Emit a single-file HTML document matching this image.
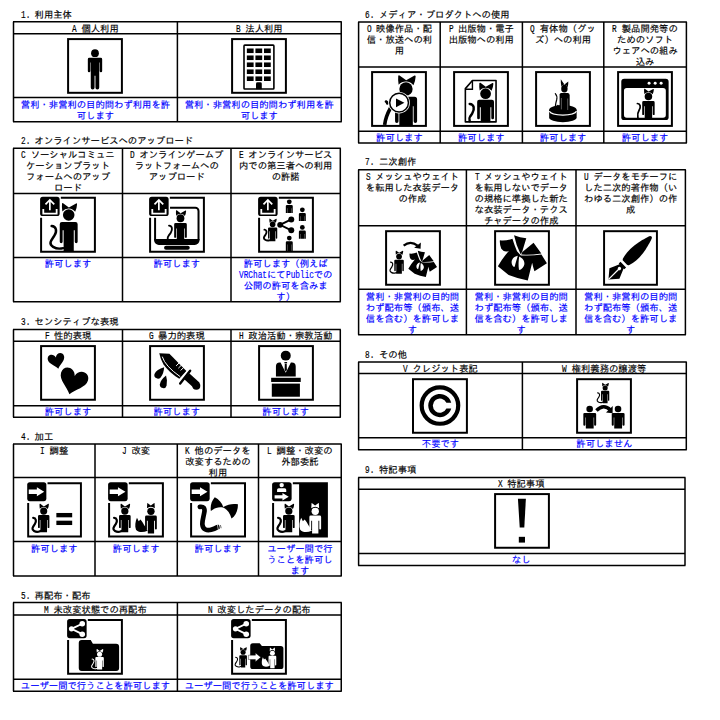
<!DOCTYPE html>
<html lang="ja"><head><meta charset="utf-8"><title>利用規約</title>
<style>
html,body{margin:0;padding:0;background:#fff}
body{width:720px;height:720px;position:relative;overflow:hidden;
 font-family:"Liberation Mono","IPAGothic","Noto Sans CJK JP",monospace;font-size:9.33px;line-height:11.0px;color:#000;
 -webkit-font-smoothing:antialiased}
.l{display:inline-block;white-space:nowrap;text-align:left}
.l i{display:inline-block;font-style:normal;transform:scale(.833,1.14);transform-origin:0 72.5%}
.t{position:absolute;white-space:nowrap;text-align:center;-webkit-text-stroke:0.15px currentColor}
.h{position:absolute;white-space:nowrap;text-align:left;-webkit-text-stroke:0.15px currentColor}
.a{color:#0000ff}
svg{position:absolute;left:0;top:0;overflow:visible}
</style></head><body>

<svg width="720" height="720" viewBox="0 0 720 720">
<defs><clipPath id="fc"><rect x="1" y="1" width="54" height="54"/></clipPath></defs>
<path d="M13.00 21.80H341.75M13.00 33.80H341.75M13.00 97.60H341.75M13.00 121.80H341.75M13.50 21.80V121.80M177.40 21.80V121.80M341.25 21.80V121.80M13.00 148.30H340.80M13.00 193.60H340.80M13.00 257.60H340.80M13.00 301.80H340.80M13.50 148.30V301.80M122.50 148.30V301.80M231.00 148.30V301.80M340.30 148.30V301.80M13.00 329.60H340.80M13.00 341.30H340.80M13.00 405.80H340.80M13.00 417.20H340.80M13.50 329.60V417.20M122.50 329.60V417.20M231.00 329.60V417.20M340.30 329.60V417.20M13.00 444.00H341.75M13.00 477.50H341.75M13.00 541.40H341.75M13.00 575.90H341.75M13.50 444.00V575.90M95.00 444.00V575.90M177.30 444.00V575.90M258.50 444.00V575.90M341.25 444.00V575.90M13.00 602.60H341.75M13.00 615.10H341.75M13.00 679.30H341.75M13.00 691.30H341.75M13.50 602.60V691.30M177.40 602.60V691.30M341.25 602.60V691.30M358.10 22.00H686.90M358.10 67.00H686.90M358.10 131.20H686.90M358.10 143.10H686.90M358.60 22.00V143.10M440.20 22.00V143.10M522.40 22.00V143.10M603.80 22.00V143.10M686.40 22.00V143.10M358.10 169.70H685.90M358.10 225.80H685.90M358.10 289.20H685.90M358.10 334.70H685.90M358.60 169.70V334.70M466.40 169.70V334.70M576.00 169.70V334.70M685.40 169.70V334.70M358.10 362.00H686.80M358.10 373.60H686.80M358.10 437.80H686.80M358.10 449.80H686.80M358.60 362.00V449.80M522.40 362.00V449.80M686.30 362.00V449.80M358.10 477.60H685.50M358.10 489.30H685.50M358.10 553.60H685.50M358.10 565.50H685.50M358.60 477.60V565.50M685.00 477.60V565.50" stroke="#000" stroke-width="1.5" fill="none"/>
<g transform="translate(67.10 38.10) scale(0.9964 0.9946)"><rect x="1" y="1" width="54" height="54" fill="none" stroke="#000" stroke-width="2"/><circle cx="28" cy="15.2" r="3.9" fill="#000"/><path d="M22.3 19.7H33.7Q35.2 19.7 35.2 21.2V33a1.25 1.25 0 0 1-2.5 0V24.5h-.45V49.7a1.9 1.9 0 0 1-3.8 0V37.9h-.9V49.7a1.9 1.9 0 0 1-3.8 0V24.5h-.45V33a1.25 1.25 0 0 1-2.5 0V21.2Q20.8 19.7 22.3 19.7Z"/></g>
<g transform="translate(231.10 38.10) scale(0.9964 0.9946)"><rect x="1" y="1" width="54" height="54" fill="none" stroke="#000" stroke-width="2"/><rect x="12.95" y="7.1" width="30" height="44" rx="0.8" fill="none" stroke="#000" stroke-width="1.6"/><rect x="15.8" y="10.45" width="6.8" height="4.6"/><rect x="24.4" y="10.45" width="6.8" height="4.6"/><rect x="33" y="10.45" width="6.8" height="4.6"/><rect x="15.8" y="17.47" width="6.8" height="4.6"/><rect x="24.4" y="17.47" width="6.8" height="4.6"/><rect x="33" y="17.47" width="6.8" height="4.6"/><rect x="15.8" y="24.49" width="6.8" height="4.6"/><rect x="24.4" y="24.49" width="6.8" height="4.6"/><rect x="33" y="24.49" width="6.8" height="4.6"/><rect x="15.8" y="31.51" width="6.8" height="4.6"/><rect x="24.4" y="31.51" width="6.8" height="4.6"/><rect x="33" y="31.51" width="6.8" height="4.6"/><rect x="15.8" y="38.53" width="6.8" height="4.6"/><rect x="24.4" y="38.53" width="6.8" height="4.6"/><rect x="33" y="38.53" width="6.8" height="4.6"/><path d="M25 51.4V45.8a1.5 1.5 0 0 1 1.5-1.5h2.8a1.5 1.5 0 0 1 1.5 1.5V51.4Z"/></g>
<g transform="translate(40.10 196.80) scale(0.9964 0.9991)"><g clip-path="url(#fc)"><path d="M11.59 29.22 C16.23 29.51 17.39 34.44 14.2 39.08 S8.11 47.2 13.04 50.1 S19.42 51.84 23.19 51.38" fill="none" stroke="#000" stroke-width="2.49" stroke-linecap="round"/><path d="M22.32 14.6 Q21.62 10.08 21.97 6.89 Q22.2 5.9 23.13 6.48 L28.87 10.66 L36.12 6.6 Q37.11 6.31 37.11 7.47 Q36.94 11.24 35.2 15.01 A8.18 8.18 0 0 0 22.32 14.6 Z" fill="#000"/><circle cx="28.7" cy="18.2" r="5.8" fill="#000"/><path d="M21.91 25.28H35.49Q37.69 25.28 37.69 27.48V45.05a1.45 1.45 0 0 1 -2.9 0V33.4h-0.99V55.32H23.6V33.4h-0.99V45.05a1.45 1.45 0 0 1 -2.9 0V27.48Q19.71 25.28 21.91 25.28Z" fill="#000"/></g><path d="M20.8 1H55V55H1V21" fill="none" stroke="#000" stroke-width="2"/><rect x="0" y="0" width="19.6" height="19.2" rx="2.6" fill="#000"/><g fill="none" stroke="#fff" stroke-width="1.7"><path d="M9.8 13.4V3.6M5.4 7.6L9.8 3.2L14.2 7.6"/><path d="M3.2 12.2V16.8H16.6V12.2" stroke-width="1.8"/></g></g>
<g transform="translate(149.10 196.80) scale(0.9964 0.9991)"><path d="M21 10.9H46.4a3.2 3.2 0 0 1 3.2 3.2V43.5" fill="none" stroke="#000" stroke-width="2"/><path d="M6 21V43.5" fill="none" stroke="#000" stroke-width="2"/><path d="M5 42.3H50.6V43.4a4.8 4.8 0 0 1-4.8 4.8H9.8A4.8 4.8 0 0 1 5 43.4Z"/><rect x="15" y="48.9" width="25.8" height="4" rx="2"/><path d="M19.99 28.86 C23.12 29.05 23.89 32.37 21.75 35.88 S18.05 39.39 18.63 42.9" fill="none" stroke="#000" stroke-width="1.87" stroke-linecap="round"/><path d="M27.21 19.03 Q26.74 15.99 26.98 13.84 Q27.13 13.18 27.76 13.57 L31.62 16.38 L36.49 13.65 Q37.16 13.46 37.16 14.23 Q37.04 16.77 35.87 19.3 A5.5 5.5 0 0 0 27.21 19.03 Z" fill="#000"/><circle cx="31.5" cy="21.45" r="3.9" fill="#000"/><path d="M26.62 26.21H36.38Q37.86 26.21 37.86 27.69V40.13a0.97 0.97 0 0 1 -1.95 0V31.67h-0.66V43.29H27.76V31.67h-0.66V40.13a0.97 0.97 0 0 1 -1.95 0V27.69Q25.14 26.21 26.62 26.21Z" fill="#000"/><path d="M20.8 1H55V55H1V21" fill="none" stroke="#000" stroke-width="2"/><rect x="0" y="0" width="19.6" height="19.2" rx="2.6" fill="#000"/><g fill="none" stroke="#fff" stroke-width="1.7"><path d="M9.8 13.4V3.6M5.4 7.6L9.8 3.2L14.2 7.6"/><path d="M3.2 12.2V16.8H16.6V12.2" stroke-width="1.8"/></g></g>
<g transform="translate(258.10 196.80) scale(0.9964 0.9991)"><path d="M6.34 32.92 C8.58 33.06 9.14 35.44 7.6 37.68 S4.66 41.6 7.04 43 S10.12 43.84 12.08 43.28" fill="none" stroke="#000" stroke-width="1.85" stroke-linecap="round"/><path d="M11.52 25.86 Q11.18 23.68 11.35 22.14 Q11.46 21.66 11.91 21.94 L14.68 23.96 L18.18 22 Q18.66 21.86 18.66 22.42 Q18.58 24.24 17.74 26.06 A3.95 3.95 0 0 0 11.52 25.86 Z" fill="#000"/><circle cx="14.6" cy="27.6" r="2.8" fill="#000"/><path d="M11.04 30.68H18.16Q19.22 30.68 19.22 31.74V41.32a0.7 0.7 0 0 1 -1.4 0V34.6h-0.48V44.4H11.86V34.6h-0.48V41.32a0.7 0.7 0 0 1 -1.4 0V31.74Q9.98 30.68 11.04 30.68Z" fill="#000"/><path d="M33.3 22.7L22.1 28L33.3 33.6" fill="none" stroke="#000" stroke-width="1.9"/><circle cx="22.1" cy="28" r="2.9"/><circle cx="33.3" cy="22.7" r="3"/><circle cx="33.3" cy="33.6" r="3"/><circle cx="31.3" cy="5" r="2.4" fill="#000"/><path d="M29.02 8.12H33.58Q34.78 8.12 34.78 9.32V16.28h-1.2V11.48h-0.24V16.28H29.26V11.48h-0.24V16.28h-1.2V9.32Q27.82 8.12 29.02 8.12Z" fill="#000"/><circle cx="44.4" cy="13" r="2.4" fill="#000"/><path d="M42.12 16.12H46.68Q47.88 16.12 47.88 17.32V24.28h-1.2V19.48h-0.24V24.28H42.36V19.48h-0.24V24.28h-1.2V17.32Q40.92 16.12 42.12 16.12Z" fill="#000"/><circle cx="44.4" cy="30.7" r="2.4" fill="#000"/><path d="M42.12 33.82H46.68Q47.88 33.82 47.88 35.02V41.98h-1.2V37.18h-0.24V41.98H42.36V37.18h-0.24V41.98h-1.2V35.02Q40.92 33.82 42.12 33.82Z" fill="#000"/><g clip-path="url(#fc)"><circle cx="31.3" cy="41.3" r="2.4" fill="#000"/><path d="M29.02 44.42H33.58Q34.78 44.42 34.78 45.62V55.22h-1.2V47.78h-0.24V55.22H29.26V47.78h-0.24V55.22h-1.2V45.62Q27.82 44.42 29.02 44.42Z" fill="#000"/></g><path d="M20.8 1H55V55H1V21" fill="none" stroke="#000" stroke-width="2"/><rect x="0" y="0" width="19.6" height="19.2" rx="2.6" fill="#000"/><g fill="none" stroke="#fff" stroke-width="1.7"><path d="M9.8 13.4V3.6M5.4 7.6L9.8 3.2L14.2 7.6"/><path d="M3.2 12.2V16.8H16.6V12.2" stroke-width="1.8"/></g></g>
<g transform="translate(40.10 345.10) scale(0.9964 0.9937)"><rect x="1" y="1" width="54" height="54" fill="none" stroke="#000" stroke-width="2"/><path d="M0 3C-1.5 -3 -9.5 -2.6 -9.5 3.5C-9.5 8.5 -3 11.5 0 16C3 11.5 9.5 8.5 9.5 3.5C9.5 -2.6 1.5 -3 0 3Z" transform="translate(15.25 10) rotate(-12.5) scale(0.88 0.88)"/><path d="M0 3C-1.5 -3 -9.5 -2.6 -9.5 3.5C-9.5 8.5 -3 11.5 0 16C3 11.5 9.5 8.5 9.5 3.5C9.5 -2.6 1.5 -3 0 3Z" transform="translate(35.95 26.8) rotate(16) scale(1.48 1.48)"/></g>
<g transform="translate(149.10 345.10) scale(0.9964 0.9937)"><rect x="1" y="1" width="54" height="54" fill="none" stroke="#000" stroke-width="2"/><path d="M10.2 8.1L20.4 8.8L37.4 26.1L30.3 33.9Q20 27.5 14.5 19.5Q11.5 14.5 10.2 8.1Z"/><path d="M13.2 11.6Q16 21 31.2 31.8" fill="none" stroke="#fff" stroke-width="1"/><path d="M30.3 17.8L27.1 21M32.55 20.05L29.4 23.2M34.9 22.3L31.7 25.5" fill="none" stroke="#fff" stroke-width="1"/><path d="M41.2 25.8L31.2 38.6" fill="none" stroke="#000" stroke-width="2.4" stroke-linecap="round"/><path d="M39.2 24.6L29.4 37" fill="none" stroke="#fff" stroke-width="1"/><path d="M37.6 31.2L47.9 40.6" fill="none" stroke="#000" stroke-width="7.8" stroke-linecap="butt"/><circle cx="47.4" cy="40.9" r="4"/><path d="M15.1 22.3Q7.5 24.5 5.4 29A3.7 3.7 0 0 0 11.6 32.6Q14.8 28.5 15.1 22.3Z"/><path d="M17 30.7Q11 35.5 10.7 40A3.5 3.5 0 0 0 17.6 40.6Q18.6 35.5 17 30.7Z"/></g>
<g transform="translate(258.10 345.10) scale(0.9964 0.9937)"><rect x="1" y="1" width="54" height="54" fill="none" stroke="#000" stroke-width="2"/><circle cx="27.75" cy="10.6" r="5" fill="#000"/><path d="M17.9 31.7V21.5Q17.9 17.6 21.6 17.6H22.6L27.75 27.8L32.9 17.6H33.9Q37.75 17.6 37.75 21.5V31.7Z"/><path d="M26.4 17H29.1V18.2H26.4ZM26.8 18.7H28.7L28.9 25L27.75 26.6L26.6 25Z"/><rect x="13.1" y="32.9" width="29.7" height="4.2"/><rect x="13.75" y="38.75" width="28.2" height="13.2"/></g>
<g transform="translate(27.20 482.20) scale(0.9768 0.9893)"><path d="M6.13 36.13 C9.05 36.32 9.78 39.42 7.77 42.34 S3.94 47.45 7.04 49.27 S11.06 50.37 13.61 49.27" fill="none" stroke="#000" stroke-width="2.26" stroke-linecap="round"/><path d="M12.88 26.94 Q12.45 24.09 12.67 22.08 Q12.81 21.46 13.4 21.83 L17.01 24.45 L21.57 21.9 Q22.19 21.72 22.19 22.45 Q22.08 24.82 20.99 27.19 A5.15 5.15 0 0 0 12.88 26.94 Z" fill="#000"/><circle cx="16.9" cy="29.2" r="3.65" fill="#000"/><path d="M12.45 33.14H21.35Q22.74 33.14 22.74 34.53V45.44a0.91 0.91 0 0 1 -1.82 0V38.25h-0.62V50.55H13.51V38.25h-0.62V45.44a0.91 0.91 0 0 1 -1.82 0V34.53Q11.06 33.14 12.45 33.14Z" fill="#000"/><rect x="29.85" y="31.1" width="16.2" height="4.4"/><rect x="29.85" y="38.9" width="16.2" height="4.4"/><path d="M20.8 1H55V55H1V21" fill="none" stroke="#000" stroke-width="2"/><rect x="0" y="0" width="19.6" height="19.2" rx="2.6" fill="#000"/><path d="M1.6 7.3H9.9V5L17.4 9.6L9.9 14.2V11.9H1.6Z" fill="#fff"/></g>
<g transform="translate(108.10 482.20) scale(0.9964 0.9893)"><path d="M6.03 36.13 C8.95 36.32 9.68 39.42 7.68 42.34 S3.84 47.45 6.95 49.27 S10.96 50.37 13.52 49.27" fill="none" stroke="#000" stroke-width="2.26" stroke-linecap="round"/><path d="M12.79 26.94 Q12.35 24.09 12.57 22.08 Q12.71 21.46 13.3 21.83 L16.91 24.45 L21.47 21.9 Q22.09 21.72 22.09 22.45 Q21.98 24.82 20.89 27.19 A5.15 5.15 0 0 0 12.79 26.94 Z" fill="#000"/><circle cx="16.8" cy="29.2" r="3.65" fill="#000"/><path d="M12.35 33.14H21.25Q22.64 33.14 22.64 34.53V45.44a0.91 0.91 0 0 1 -1.82 0V38.25h-0.62V50.55H13.41V38.25h-0.62V45.44a0.91 0.91 0 0 1 -1.82 0V34.53Q10.96 33.14 12.35 33.14Z" fill="#000"/><path d="M29 36 C27.4 39.5 26.6 44.5 28 48 C30 50.8 35 51.2 39.6 49.1 L37.2 44.8 C35.7 42.5 34.5 40 32.5 37.6 L30.7 39.5 Z" fill="#000"/><path d="M39 26.33 L39.3 21.26 Q39.41 20.67 39.85 21.26 L42.85 23.66 L45.96 21.26 Q46.4 20.67 46.63 21.26 L46.88 26.33 A5.66 5.66 0 0 0 39 26.33 Z" fill="#000"/><circle cx="43" cy="29.4" r="3.7" fill="#000"/><path d="M38.5 33.73H47.5Q48.9 33.73 48.9 35.13V46.98a0.93 0.93 0 0 1 -1.85 0V38.91h-0.89V51.78H39.84V38.91h-0.89V46.98a0.93 0.93 0 0 1 -1.85 0V35.13Q37.1 33.73 38.5 33.73Z" fill="#000"/><path d="M20.8 1H55V55H1V21" fill="none" stroke="#000" stroke-width="2"/><rect x="0" y="0" width="19.6" height="19.2" rx="2.6" fill="#000"/><path d="M1.6 7.3H9.9V5L17.4 9.6L9.9 14.2V11.9H1.6Z" fill="#fff"/></g>
<g transform="translate(190.10 482.20) scale(0.9982 0.9893)"><path d="M24.7 15.3C29 17.5 32 21 33.2 25.1C38 22.2 43 21.6 47.9 22.4C48 29 45.5 34 41.5 36.8C40 31.5 37.5 27.8 33.6 25.9C29 24.6 24.5 26 20.8 29.2C20 24 21.5 19 24.7 15.3Z"/><path d="M9.8 24.9C13.5 24.3 14.9 26.5 14.3 30C13.5 35 12 39 12.3 42.8C12.8 48 17 49.2 21 48.1C23.6 47.4 25.8 46.3 27.4 45.4" fill="none" stroke="#000" stroke-width="4.7" stroke-linecap="round"/><path d="M27.3 42.6L28.3 47.8M29 42.2L30.1 47.2M30.7 43.2L31.3 46.4" fill="none" stroke="#fff" stroke-width="0.7"/><path d="M28.5 43L29.5 47.4M30.4 43.3L31.1 46.5" fill="none" stroke="#000" stroke-width="0.6"/><path d="M20.8 1H55V55H1V21" fill="none" stroke="#000" stroke-width="2"/><rect x="0" y="0" width="19.6" height="19.2" rx="2.6" fill="#000"/><path d="M1.6 7.3H9.9V5L17.4 9.6L9.9 14.2V11.9H1.6Z" fill="#fff"/></g>
<g transform="translate(272.10 482.20) scale(0.9964 0.9893)"><rect x="27.1" y="1" width="28" height="54"/><path d="M6.03 36.13 C8.95 36.32 9.68 39.42 7.68 42.34 S3.84 47.45 6.95 49.27 S10.96 50.37 13.52 49.27" fill="none" stroke="#000" stroke-width="2.26" stroke-linecap="round"/><path d="M12.79 26.94 Q12.35 24.09 12.57 22.08 Q12.71 21.46 13.3 21.83 L16.91 24.45 L21.47 21.9 Q22.09 21.72 22.09 22.45 Q21.98 24.82 20.89 27.19 A5.15 5.15 0 0 0 12.79 26.94 Z" fill="#000"/><circle cx="16.8" cy="29.2" r="3.65" fill="#000"/><path d="M12.35 33.14H21.25Q22.64 33.14 22.64 34.53V45.44a0.91 0.91 0 0 1 -1.82 0V38.25h-0.62V50.55H13.41V38.25h-0.62V45.44a0.91 0.91 0 0 1 -1.82 0V34.53Q10.96 33.14 12.35 33.14Z" fill="#000"/><path d="M29.2 36 C27.6 39.5 26.8 44.5 28.2 48 C30.2 50.8 35.2 51.2 39.8 49.1 L37.4 44.8 C35.9 42.5 34.7 40 32.7 37.6 L30.9 39.5 Z" fill="#fff"/><path d="M39.3 26.33 L39.6 21.26 Q39.71 20.67 40.15 21.26 L43.15 23.66 L46.26 21.26 Q46.7 20.67 46.93 21.26 L47.18 26.33 A5.66 5.66 0 0 0 39.3 26.33 Z" fill="#fff"/><circle cx="43.3" cy="29.4" r="3.7" fill="#fff"/><path d="M38.8 33.73H47.8Q49.2 33.73 49.2 35.13V46.98a0.93 0.93 0 0 1 -1.85 0V38.91h-0.89V51.78H40.14V38.91h-0.89V46.98a0.93 0.93 0 0 1 -1.85 0V35.13Q37.4 33.73 38.8 33.73Z" fill="#fff"/><path d="M20.8 1H55V55H1V21" fill="none" stroke="#000" stroke-width="2"/><rect x="0" y="0" width="19.6" height="19.2" rx="2.6" fill="#000"/><circle cx="9.6" cy="2.9" r="2.2" fill="#fff"/><path d="M5 9.8V7.6Q5 6 6.6 6H12.6Q14.2 6 14.2 7.6V9.8Z" fill="#fff"/><path d="M2.5 13.1H10.4V11L16.7 14.75L10.4 18.4V16.4H2.5Z" fill="#fff"/></g>
<g transform="translate(67.10 619.10) scale(0.9964 0.9937)"><path d="M14.7 21H23.7L25.9 24.8H49.2a3 3 0 0 1 3 3V49.3a3 3 0 0 1 -3 3H14.7a3 3 0 0 1 -3 -3V24A3 3 0 0 1 14.7 21Z"/><path d="M25.08 40.14 C27.12 40.27 27.63 42.44 26.23 44.48 S23.55 48.05 25.72 49.32 S28.52 50.09 30.3 49.58" fill="none" stroke="#fff" stroke-width="1.02" stroke-linecap="round"/><path d="M29.8 33.72 Q29.49 31.73 29.64 30.33 Q29.74 29.89 30.15 30.15 L32.68 31.98 L35.86 30.2 Q36.3 30.07 36.3 30.58 Q36.22 32.24 35.46 33.9 A3.6 3.6 0 0 0 29.8 33.72 Z" fill="#fff"/><circle cx="32.6" cy="35.3" r="2.55" fill="#fff"/><path d="M29.3 38.1H35.9Q36.87 38.1 36.87 39.07V47.67a0.64 0.64 0 0 1 -1.27 0V41.67h-0.43V50.6H30.04V41.67h-0.43V47.67a0.64 0.64 0 0 1 -1.27 0V39.07Q28.33 38.1 29.3 38.1Z" fill="#fff"/><path d="M20.8 1H55V55H1V21" fill="none" stroke="#000" stroke-width="2"/><rect x="0" y="0" width="19.6" height="19.2" rx="2.6" fill="#000"/><path d="M15.2 4.7L4.4 9.8L15.2 15.2" fill="none" stroke="#fff" stroke-width="1.9"/><circle cx="4.4" cy="9.8" r="2.6" fill="#fff"/><circle cx="15.2" cy="4.7" r="2.8" fill="#fff"/><circle cx="15.2" cy="15.2" r="2.8" fill="#fff"/></g>
<g transform="translate(231.10 619.10) scale(0.9964 0.9937)"><path d="M21.8 24.2H28.7L30.9 27H49.9a2.6 2.6 0 0 1 2.6 2.6V47.7a2.6 2.6 0 0 1 -2.6 2.6H21.8a2.6 2.6 0 0 1 -2.6 -2.6V26.8A2.6 2.6 0 0 1 21.8 24.2Z"/><path d="M4.53 38.3 C6.57 38.42 7.08 40.59 5.68 42.63 S3 46.2 5.17 47.48 S7.97 48.24 9.76 47.73" fill="none" stroke="#000" stroke-width="1.07" stroke-linecap="round"/><path d="M9.25 31.87 Q8.94 29.88 9.09 28.48 Q9.19 28.04 9.6 28.3 L12.13 30.14 L15.31 28.35 Q15.75 28.22 15.75 28.73 Q15.67 30.39 14.91 32.05 A3.6 3.6 0 0 0 9.25 31.87 Z" fill="#000"/><circle cx="12.05" cy="33.45" r="2.55" fill="#000"/><path d="M9.19 36.26H14.91Q15.88 36.26 15.88 37.22V45.82a0.64 0.64 0 0 1 -1.27 0V39.83h-0.43V48.75H9.93V39.83h-0.43V45.82a0.64 0.64 0 0 1 -1.27 0V37.22Q8.23 36.26 9.19 36.26Z" fill="#000"/><path d="M17.4 36.3H24.4V34L29.8 38.5L24.4 43V40.7H17.4Z" fill="#fff" stroke="#000" stroke-width="0.4"/><path d="M31.9 38.5 C30.86 40.77 30.34 44.02 31.25 46.3 C32.55 48.12 35.8 48.38 38.79 47.02 L37.23 44.22 C36.25 42.73 35.48 41.1 34.17 39.54 L33 40.77 Z" fill="#fff"/><path d="M38.75 32.32 L38.95 28.9 Q39.03 28.5 39.33 28.9 L41.35 30.52 L43.45 28.9 Q43.75 28.5 43.9 28.9 L44.08 32.32 A3.83 3.83 0 0 0 38.75 32.32 Z" fill="#fff"/><circle cx="41.45" cy="34.4" r="2.5" fill="#fff"/><path d="M38.53 36.9H44.38Q45.33 36.9 45.33 37.85V46.02a0.62 0.62 0 0 1 -1.25 0V40.4h-0.43V49.4H39.25V40.4h-0.43V46.02a0.62 0.62 0 0 1 -1.25 0V37.85Q37.58 36.9 38.53 36.9Z" fill="#fff"/><path d="M20.8 1H55V55H1V21" fill="none" stroke="#000" stroke-width="2"/><rect x="0" y="0" width="19.6" height="19.2" rx="2.6" fill="#000"/><path d="M15.2 4.7L4.4 9.8L15.2 15.2" fill="none" stroke="#fff" stroke-width="1.9"/><circle cx="4.4" cy="9.8" r="2.6" fill="#fff"/><circle cx="15.2" cy="4.7" r="2.8" fill="#fff"/><circle cx="15.2" cy="15.2" r="2.8" fill="#fff"/></g>
<g transform="translate(371.10 71.10) scale(0.9964 0.9964)"><g clip-path="url(#fc)"><path d="M15 30.6Q16.3 31.2 16.2 32.4" fill="none" stroke="#000" stroke-width="2.8" stroke-linecap="round"/><path d="M19.5 37Q14.5 46 13.6 54" fill="none" stroke="#000" stroke-width="3.6"/><path d="M27.63 13.75 Q26.83 8.52 27.23 4.83 Q27.5 3.7 28.57 4.37 L35.2 9.19 L43.58 4.5 Q44.72 4.16 44.72 5.5 Q44.51 9.86 42.5 14.21 A9.45 9.45 0 0 0 27.63 13.75 Z" fill="#000"/><circle cx="35" cy="17.9" r="6.7" fill="#000"/><path d="M26.59 25.81H43.61Q46.16 25.81 46.16 28.35V50.33a1.74 1.74 0 0 1 -3.48 0V35.19h-0.8V55.42H28.33V35.19h-0.8V50.33a1.74 1.74 0 0 1 -3.48 0V28.35Q24.05 25.81 26.59 25.81Z" fill="#000"/><circle cx="28.1" cy="31.7" r="10.8" fill="#fff"/><circle cx="28.1" cy="31.7" r="9.4" fill="#fff" stroke="#000" stroke-width="1.5"/><path d="M25 27.4V36.2L33.4 31.8Z"/></g><rect x="1" y="1" width="54" height="54" fill="none" stroke="#000" stroke-width="2"/></g>
<g transform="translate(453.10 71.10) scale(0.9964 0.9964)"><path d="M19.4 9.4H43.1V51H12.3V17.6Z" fill="none" stroke="#000" stroke-width="1.6" stroke-linejoin="round"/><path d="M19.4 9.4V18.2H12.3" fill="none" stroke="#000" stroke-width="1.4"/><g clip-path="url(#fc)"><path d="M16.67 32.96 C20.99 33.23 22.07 37.82 19.1 42.68 S15.86 45.38 16.67 50.24" fill="none" stroke="#000" stroke-width="2.48" stroke-linecap="round"/><path d="M26.66 19.35 Q26.01 15.14 26.34 12.17 Q26.55 11.25 27.42 11.79 L32.76 15.68 L39.51 11.9 Q40.43 11.63 40.43 12.71 Q40.27 16.22 38.65 19.73 A7.61 7.61 0 0 0 26.66 19.35 Z" fill="#000"/><circle cx="32.6" cy="22.7" r="5.4" fill="#000"/><path d="M26.2 28.75H39Q41.05 28.75 41.05 30.8V46.95a1.35 1.35 0 0 1 -2.7 0V36.31h-0.92V51.32H27.77V36.31h-0.92V46.95a1.35 1.35 0 0 1 -2.7 0V30.8Q24.15 28.75 26.2 28.75Z" fill="#000"/></g><rect x="1" y="1" width="54" height="54" fill="none" stroke="#000" stroke-width="2"/></g>
<g transform="translate(535.10 71.10) scale(0.9964 0.9964)"><rect x="1" y="1" width="54" height="54" fill="none" stroke="#000" stroke-width="2"/><path d="M14.1 39V46.6A13.8 4.7 0 0 0 41.7 46.6V39Z"/><ellipse cx="27.9" cy="38.8" rx="13.8" ry="4.7"/><path d="M14.3 40.2A13.7 4.5 0 0 0 41.5 40.2" fill="none" stroke="#fff" stroke-width="1.2"/><path d="M20.3 22.6Q22.6 25 21.6 29Q20 34.5 20.6 37L22.4 37L22.8 34.4" fill="none" stroke="#000" stroke-width="1.2" stroke-linecap="round"/><path d="M29.4 13.5L25.8 8.3Q25.6 12 26.4 15.4Q27.5 13.7 29.4 13.5ZM29.4 13.5L33.3 10.4Q33.5 13.5 32.7 16.2Q31.5 13.9 29.4 13.5Z"/><ellipse cx="29.4" cy="17.6" rx="3.2" ry="3.8"/><path d="M24.6 38V23.6Q24.6 22 26.2 22H33Q34.7 22.4 34.7 24.4V38.6Q30 40.6 24.6 38Z"/><path d="M26.4 27V38.4M32.7 27.5V39" fill="none" stroke="#fff" stroke-width="0.35"/></g>
<g transform="translate(617.10 71.10) scale(0.9964 0.9964)"><rect x="1" y="1" width="54" height="54" fill="none" stroke="#000" stroke-width="2"/><rect x="4.2" y="7.8" width="47.5" height="41.4" rx="3"/><rect x="6.9" y="16.9" width="42" height="30" rx="2.8" fill="#fff"/><circle cx="32.1" cy="12.25" r="1.5" fill="#fff"/><circle cx="38.2" cy="12.25" r="1.5" fill="#fff"/><circle cx="44.2" cy="12.25" r="1.5" fill="#fff"/><path d="M20.39 32.52 C23.39 32.71 24.14 35.9 22.07 39.27 S20.39 43.59 20.95 46.96" fill="none" stroke="#000" stroke-width="1.73" stroke-linecap="round"/><path d="M27.32 23.07 Q26.88 20.15 27.1 18.09 Q27.25 17.45 27.85 17.82 L31.56 20.52 L36.25 17.9 Q36.89 17.71 36.89 18.46 Q36.77 20.9 35.65 23.34 A5.29 5.29 0 0 0 27.32 23.07 Z" fill="#000"/><circle cx="31.45" cy="25.4" r="3.75" fill="#000"/><path d="M26.63 30.01H36.27Q37.69 30.01 37.69 31.44V43.21a0.94 0.94 0 0 1 -1.88 0V35.26h-0.64V47.15H27.72V35.26h-0.64V43.21a0.94 0.94 0 0 1 -1.88 0V31.44Q25.21 30.01 26.63 30.01Z" fill="#000"/></g>
<g transform="translate(385.10 230.20) scale(0.9964 0.9920)"><rect x="1" y="1" width="54" height="54" fill="none" stroke="#000" stroke-width="2"/><path d="M5.47 32.09 C7.79 32.24 8.36 34.69 6.77 37 S3.74 41.05 6.2 42.5 S9.38 43.36 11.4 42.78" fill="none" stroke="#000" stroke-width="1.21" stroke-linecap="round"/><path d="M10.82 24.81 Q10.47 22.55 10.65 20.96 Q10.76 20.47 11.23 20.76 L14.09 22.84 L17.7 20.82 Q18.19 20.68 18.19 21.25 Q18.1 23.13 17.24 25.01 A4.07 4.07 0 0 0 10.82 24.81 Z" fill="#000"/><circle cx="14" cy="26.6" r="2.89" fill="#000"/><path d="M10.33 29.78H17.67Q18.77 29.78 18.77 30.88V40.62a0.72 0.72 0 0 1 -1.45 0V33.83h-0.49V43.94H11.17V33.83h-0.49V40.62a0.72 0.72 0 0 1 -1.45 0V30.88Q9.23 29.78 10.33 29.78Z" fill="#000"/><path d="M18.6 15.6Q25.5 9.8 32.6 15.6" fill="none" stroke="#000" stroke-width="2.2"/><path d="M35.9 12.4L35.6 18.8L29.2 17.6Z"/><g transform="translate(21.1 17.55) scale(0.585)"><path d="M5.8 10.2Q12 11 18.4 8.6Q20 14 23 21.2L26.8 25.4Q38 26 47.5 24.6L53 33.2L40.5 41.5Q39 37 38.2 32.8L33.8 50.6Q24 49 14.6 45.2L3.8 36.4Q8.5 28 15 20.6Q10.5 23 7.2 18.6Q5.4 14.5 5.8 10.2ZM20 5.2Q26 7.6 32.3 8L28.2 21.8L26.6 24.2Q22 15 20 5.2ZM28.4 22L39.6 12.6L47.4 23.4Q37 25.2 27.2 24.6Z"/><path d="M23.8 25.8C19.5 26.5 17 30 17.7 33.5C18.3 36.2 19.6 37.2 20.7 36.9C21.5 33 22.8 29.5 23.8 25.8ZM25.2 26.4C28.6 28 30.8 31 30.4 34.2C29.9 37.2 27.6 39.6 25 40.2C24.3 35 24.5 30.5 25.2 26.4Z" fill="#fff"/></g></g>
<g transform="translate(494.10 230.20) scale(0.9964 0.9920)"><rect x="1" y="1" width="54" height="54" fill="none" stroke="#000" stroke-width="2"/><path d="M5.8 10.2Q12 11 18.4 8.6Q20 14 23 21.2L26.8 25.4Q38 26 47.5 24.6L53 33.2L40.5 41.5Q39 37 38.2 32.8L33.8 50.6Q24 49 14.6 45.2L3.8 36.4Q8.5 28 15 20.6Q10.5 23 7.2 18.6Q5.4 14.5 5.8 10.2ZM20 5.2Q26 7.6 32.3 8L28.2 21.8L26.6 24.2Q22 15 20 5.2ZM28.4 22L39.6 12.6L47.4 23.4Q37 25.2 27.2 24.6Z"/><path d="M23.8 25.8C19.5 26.5 17 30 17.7 33.5C18.3 36.2 19.6 37.2 20.7 36.9C21.5 33 22.8 29.5 23.8 25.8ZM25.2 26.4C28.6 28 30.8 31 30.4 34.2C29.9 37.2 27.6 39.6 25 40.2C24.3 35 24.5 30.5 25.2 26.4Z" fill="#fff"/></g>
<g transform="translate(603.10 230.20) scale(0.9786 0.9920)"><rect x="1" y="1" width="54" height="54" fill="none" stroke="#000" stroke-width="2"/><g transform="translate(5.5 49.6) rotate(-44.5)"><path d="M25.3 -4.6C32 -6.7 40 -6.8 48 -5.1C54 -3.7 59 -2.2 61 -1.3Q62.4 0 61 1.3C59 2.2 54 3.7 48 5.1C40 6.8 32 6.7 25.3 4.6Q23.8 4 23.8 2.8V-2.8Q23.8 -4 25.3 -4.6Z"/><path d="M0 0L8.5 -7.3Q14 -5 18.7 -3V-4.05H21.2V4.05H18.7V3Q14 5 8.5 7.3Z"/><path d="M0 0H15" stroke="#fff" stroke-width="1.25" fill="none"/><circle cx="15.7" cy="0" r="1.7" fill="#fff"/></g></g>
<g transform="translate(412.00 378.20) scale(0.9982 0.9920)"><rect x="1" y="1" width="54" height="54" fill="none" stroke="#000" stroke-width="2"/><circle cx="28" cy="27.6" r="18.3" fill="none" stroke="#000" stroke-width="4.2"/><path d="M39.3 24.7A11.7 11.7 0 1 0 39.3 30.5H34.45A7.1 7.1 0 1 1 34.45 24.7Z"/></g>
<g transform="translate(576.10 378.20) scale(0.9964 0.9920)"><rect x="1" y="1" width="54" height="54" fill="none" stroke="#000" stroke-width="2"/><path d="M21.63 14.75 C23.67 14.87 24.18 17.04 22.77 19.08 S20.1 22.65 22.27 23.92 S25.07 24.69 26.85 24.18" fill="none" stroke="#000" stroke-width="1.15" stroke-linecap="round"/><path d="M26.34 8.32 Q26.04 6.33 26.19 4.93 Q26.29 4.49 26.7 4.75 L29.23 6.59 L32.41 4.8 Q32.85 4.67 32.85 5.18 Q32.77 6.84 32.01 8.5 A3.6 3.6 0 0 0 26.34 8.32 Z" fill="#000"/><circle cx="29.15" cy="9.9" r="2.55" fill="#000"/><path d="M25.98 12.71H32.32Q33.29 12.71 33.29 13.67V22.27a0.64 0.64 0 0 1 -1.27 0V16.27h-0.43V25.2H26.71V16.27h-0.43V22.27a0.64 0.64 0 0 1 -1.27 0V13.67Q25.01 12.71 25.98 12.71Z" fill="#000"/><circle cx="13.6" cy="31" r="3.3" fill="#000"/><path d="M8.52 34.96H18.88Q20.13 34.96 20.13 36.21V46.81a1.02 1.02 0 0 1 -2.05 0V39.58h-0.46V50.63H9.77V39.58h-0.46V46.81a1.02 1.02 0 0 1 -2.05 0V36.21Q7.26 34.96 8.52 34.96Z" fill="#000"/><circle cx="42.1" cy="31" r="3.3" fill="#000"/><path d="M37.02 34.96H47.38Q48.64 34.96 48.64 36.21V46.81a1.02 1.02 0 0 1 -2.05 0V39.58h-0.46V50.63H38.27V39.58h-0.46V46.81a1.02 1.02 0 0 1 -2.05 0V36.21Q35.77 34.96 37.02 34.96Z" fill="#000"/><path d="M20.4 32.6Q27.6 25.2 34.4 32" fill="none" stroke="#000" stroke-width="3.4"/><path d="M36.8 28L36.6 35.3L30 34.6Z"/></g>
<g transform="translate(494.10 493.10) scale(0.9964 0.9937)"><rect x="1" y="1" width="54" height="54" fill="none" stroke="#000" stroke-width="2"/><path d="M23.9 5.8H31.9L30.3 34.6H25.7Z"/><rect x="24.8" y="44" width="6.2" height="5.8"/></g>
</svg>
<div class="h" style="left:20.6px;top:10.0px"><span class="l" style="width:1.5em"><i>1.&nbsp;</i></span>利用主体</div>
<div class="t" style="left:13.5px;width:163.9px;top:24.3px"><span class="l" style="width:1em"><i>A&nbsp;</i></span>個人利用</div>
<div class="t a" style="left:13.5px;width:163.9px;top:99.5px">営利・非営利の目的問わず利用を許<br>可します</div>
<div class="t" style="left:177.4px;width:163.8px;top:24.3px"><span class="l" style="width:1em"><i>B&nbsp;</i></span>法人利用</div>
<div class="t a" style="left:177.4px;width:163.8px;top:99.5px">営利・非営利の目的問わず利用を許<br>可します</div>
<div class="h" style="left:20.6px;top:135.6px"><span class="l" style="width:1.5em"><i>2.&nbsp;</i></span>オンラインサービスへのアップロード</div>
<div class="t" style="left:13.5px;width:109.0px;top:150.0px"><span class="l" style="width:1em"><i>C&nbsp;</i></span>ソーシャルコミュニ<br>ケーションプラット<br>フォームへのアップ<br>ロード</div>
<div class="t a" style="left:13.5px;width:109.0px;top:258.7px">許可します</div>
<div class="t" style="left:122.5px;width:108.5px;top:150.0px"><span class="l" style="width:1em"><i>D&nbsp;</i></span>オンラインゲームプ<br>ラットフォームへの<br>アップロード</div>
<div class="t a" style="left:122.5px;width:108.5px;top:258.7px">許可します</div>
<div class="t" style="left:231.0px;width:109.3px;top:150.0px"><span class="l" style="width:1em"><i>E&nbsp;</i></span>オンラインサービス<br>内での第三者への利用<br>の許諾</div>
<div class="t a" style="left:231.0px;width:109.3px;top:258.7px">許可します（例えば<br><span class="l" style="width:3em"><i>VRChat</i></span>にて<span class="l" style="width:3em"><i>Public</i></span>での<br>公開の許可を含みま<br>す）</div>
<div class="h" style="left:20.6px;top:317.0px"><span class="l" style="width:1.5em"><i>3.&nbsp;</i></span>センシティブな表現</div>
<div class="t" style="left:13.5px;width:109.0px;top:331.2px"><span class="l" style="width:1em"><i>F&nbsp;</i></span>性的表現</div>
<div class="t a" style="left:13.5px;width:109.0px;top:406.9px">許可します</div>
<div class="t" style="left:122.5px;width:108.5px;top:331.2px"><span class="l" style="width:1em"><i>G&nbsp;</i></span>暴力的表現</div>
<div class="t a" style="left:122.5px;width:108.5px;top:406.9px">許可します</div>
<div class="t" style="left:231.0px;width:109.3px;top:331.2px"><span class="l" style="width:1em"><i>H&nbsp;</i></span>政治活動・宗教活動</div>
<div class="t a" style="left:231.0px;width:109.3px;top:406.9px">許可します</div>
<div class="h" style="left:20.6px;top:431.5px"><span class="l" style="width:1.5em"><i>4.&nbsp;</i></span>加工</div>
<div class="t" style="left:13.5px;width:81.5px;top:445.6px"><span class="l" style="width:1em"><i>I&nbsp;</i></span>調整</div>
<div class="t a" style="left:13.5px;width:81.5px;top:543.8px">許可します</div>
<div class="t" style="left:95.0px;width:82.3px;top:445.6px"><span class="l" style="width:1em"><i>J&nbsp;</i></span>改変</div>
<div class="t a" style="left:95.0px;width:82.3px;top:543.8px">許可します</div>
<div class="t" style="left:177.3px;width:81.2px;top:445.6px"><span class="l" style="width:1em"><i>K&nbsp;</i></span>他のデータを<br>改変するための<br>利用</div>
<div class="t a" style="left:177.3px;width:81.2px;top:543.8px">許可します</div>
<div class="t" style="left:258.5px;width:82.8px;top:445.6px"><span class="l" style="width:1em"><i>L&nbsp;</i></span>調整・改変の<br>外部委託</div>
<div class="t a" style="left:258.5px;width:82.8px;top:543.8px">ユーザー間で行<br>うことを許可し<br>ます</div>
<div class="h" style="left:20.6px;top:590.5px"><span class="l" style="width:1.5em"><i>5.&nbsp;</i></span>再配布・配布</div>
<div class="t" style="left:13.5px;width:163.9px;top:604.7px"><span class="l" style="width:1em"><i>M&nbsp;</i></span>未改変状態での再配布</div>
<div class="t a" style="left:13.5px;width:163.9px;top:680.9px">ユーザー間で行うことを許可します</div>
<div class="t" style="left:177.4px;width:163.8px;top:604.7px"><span class="l" style="width:1em"><i>N&nbsp;</i></span>改変したデータの配布</div>
<div class="t a" style="left:177.4px;width:163.8px;top:680.9px">ユーザー間で行うことを許可します</div>
<div class="h" style="left:365.0px;top:10.0px"><span class="l" style="width:1.5em"><i>6.&nbsp;</i></span>メディア・プロダクトへの使用</div>
<div class="t" style="left:358.6px;width:81.6px;top:23.6px"><span class="l" style="width:1em"><i>O&nbsp;</i></span>映像作品・配<br>信・放送への利<br>用</div>
<div class="t a" style="left:358.6px;width:81.6px;top:132.5px">許可します</div>
<div class="t" style="left:440.2px;width:82.2px;top:23.6px"><span class="l" style="width:1em"><i>P&nbsp;</i></span>出版物・電子<br>出版物への利用</div>
<div class="t a" style="left:440.2px;width:82.2px;top:132.5px">許可します</div>
<div class="t" style="left:522.4px;width:81.4px;top:23.6px"><span class="l" style="width:1em"><i>Q&nbsp;</i></span>有体物（グッ<br>ズ）への利用</div>
<div class="t a" style="left:522.4px;width:81.4px;top:132.5px">許可します</div>
<div class="t" style="left:603.8px;width:82.6px;top:23.6px"><span class="l" style="width:1em"><i>R&nbsp;</i></span>製品開発等の<br>ためのソフト<br>ウェアへの組み<br>込み</div>
<div class="t a" style="left:603.8px;width:82.6px;top:132.5px">許可します</div>
<div class="h" style="left:365.0px;top:157.0px"><span class="l" style="width:1.5em"><i>7.&nbsp;</i></span>二次創作</div>
<div class="t" style="left:358.6px;width:107.8px;top:171.7px"><span class="l" style="width:1em"><i>S&nbsp;</i></span>メッシュやウェイト<br>を転用した衣装データ<br>の作成</div>
<div class="t a" style="left:358.6px;width:107.8px;top:291.5px">営利・非営利の目的問<br>わず配布等（頒布、送<br>信を含む）を許可しま<br>す</div>
<div class="t" style="left:466.4px;width:109.6px;top:171.7px"><span class="l" style="width:1em"><i>T&nbsp;</i></span>メッシュやウェイト<br>を転用しないでデータ<br>の規格に準拠した新た<br>な衣装データ・テクス<br>チャデータの作成</div>
<div class="t a" style="left:466.4px;width:109.6px;top:291.5px">営利・非営利の目的問<br>わず配布等（頒布、送<br>信を含む）を許可しま<br>す</div>
<div class="t" style="left:576.0px;width:109.4px;top:171.7px"><span class="l" style="width:1em"><i>U&nbsp;</i></span>データをモチーフに<br>した二次的著作物（い<br>わゆる二次創作）の作<br>成</div>
<div class="t a" style="left:576.0px;width:109.4px;top:291.5px">営利・非営利の目的問<br>わず配布等（頒布、送<br>信を含む）を許可しま<br>す</div>
<div class="h" style="left:365.0px;top:350.0px"><span class="l" style="width:1.5em"><i>8.&nbsp;</i></span>その他</div>
<div class="t" style="left:358.6px;width:163.8px;top:363.6px"><span class="l" style="width:1em"><i>V&nbsp;</i></span>クレジット表記</div>
<div class="t a" style="left:358.6px;width:163.8px;top:439.2px">不要です</div>
<div class="t" style="left:522.4px;width:163.9px;top:363.6px"><span class="l" style="width:1em"><i>W&nbsp;</i></span>権利義務の譲渡等</div>
<div class="t a" style="left:522.4px;width:163.9px;top:439.2px">許可しません</div>
<div class="h" style="left:365.0px;top:465.0px"><span class="l" style="width:1.5em"><i>9.&nbsp;</i></span>特記事項</div>
<div class="t" style="left:358.0px;width:326.4px;top:479.2px"><span class="l" style="width:1em"><i>X&nbsp;</i></span>特記事項</div>
<div class="t a" style="left:358.0px;width:326.4px;top:555.2px">なし</div>
</body></html>
